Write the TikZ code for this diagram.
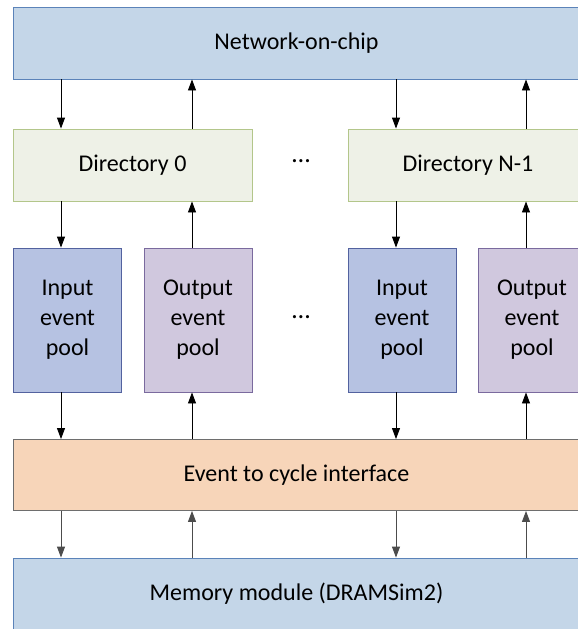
\documentclass[tikz,border=0pt]{standalone}
\usepackage{fontspec}
\setmainfont{Carlito}
\usetikzlibrary{arrows.meta}
\definecolor{nocfill}{HTML}{C4D6E8}
\definecolor{nocline}{HTML}{5B83B9}
\definecolor{dirfill}{HTML}{EEF1E7}
\definecolor{dirline}{HTML}{B3C68A}
\definecolor{infill}{HTML}{B6C2E2}
\definecolor{inline}{HTML}{53629F}
\definecolor{outfill}{HTML}{D0C8DE}
\definecolor{outline}{HTML}{7A6A9E}
\definecolor{evfill}{HTML}{F7D5B9}
\definecolor{evline}{HTML}{6E6E6E}
\tikzset{
  blk/.style={draw, line width=0.9pt, minimum height=72pt, inner sep=0pt,
    font=\fontsize{24}{30}\selectfont, align=center},
  nocbox/.style={blk, fill=nocfill, draw=nocline, minimum width=567pt},
  dirbox/.style={blk, fill=dirfill, draw=dirline, minimum width=239pt},
  inbox/.style={blk, fill=infill, draw=inline, minimum width=108pt, minimum height=144pt},
  outbox/.style={blk, fill=outfill, draw=outline, minimum width=108pt, minimum height=144pt},
  evbox/.style={blk, fill=evfill, draw=evline, minimum width=567pt, minimum height=71pt},
  arr/.style={line width=0.9pt, -{Triangle[length=11pt,width=8pt]}},
  garr/.style={arr, draw=black!70, fill=black!70},
  dotslbl/.style={font=\fontsize{26}{30}\selectfont}
}
\begin{document}
\begin{tikzpicture}[x=1pt,y=-1pt]
\useasboundingbox (0,0) rectangle (578,629);
\clip (0,0) rectangle (578,629);
\fill[white] (0,0) rectangle (578,629);

% blocks
\node[nocbox] (noc) at (296.5,43) {Network-on-chip};
\node[dirbox] (dir0) at (132.5,165) {Directory 0};
\node[dirbox] (dirn) at (468,165) {Directory N-1};
\node[dotslbl] (dotsa) at (301,161) {…};
\node[inbox]  (in0)  at (67.5,320) {Input\\event\\pool};
\node[outbox] (out0) at (198,320) {Output\\event\\pool};
\node[dotslbl] (dotsb) at (301,317) {…};
\node[inbox]  (inn)  at (402,320) {Input\\event\\pool};
\node[outbox] (outn) at (532,320) {Output\\event\\pool};
\node[evbox]  (ev)   at (296.5,475) {Event to cycle interface};
\node[nocbox] (mem)  at (296.5,594) {Memory module (DRAMSim2)};

% connector columns
\coordinate (ca) at (61,0);
\coordinate (cb) at (192,0);
\coordinate (cc) at (396,0);
\coordinate (cd) at (526,0);

% network <-> directories
\draw[arr] (noc.south -| ca) -- (dir0.north -| ca);
\draw[arr] (dir0.north -| cb) -- (noc.south -| cb);
\draw[arr] (noc.south -| cc) -- (dirn.north -| cc);
\draw[arr] (dirn.north -| cd) -- (noc.south -| cd);

% directories <-> event pools
\draw[arr] (dir0.south -| ca) -- (in0.north -| ca);
\draw[arr] (out0.north -| cb) -- (dir0.south -| cb);
\draw[arr] (dirn.south -| cc) -- (inn.north -| cc);
\draw[arr] (outn.north -| cd) -- (dirn.south -| cd);

% event pools <-> interface
\draw[arr] (in0.south -| ca) -- (ev.north -| ca);
\draw[arr] (ev.north -| cb) -- (out0.south -| cb);
\draw[arr] (inn.south -| cc) -- (ev.north -| cc);
\draw[arr] (ev.north -| cd) -- (outn.south -| cd);

% interface <-> memory
\draw[garr] (ev.south -| ca) -- (mem.north -| ca);
\draw[garr] (mem.north -| cb) -- (ev.south -| cb);
\draw[garr] (ev.south -| cc) -- (mem.north -| cc);
\draw[garr] (mem.north -| cd) -- (ev.south -| cd);
\end{tikzpicture}
\end{document}
